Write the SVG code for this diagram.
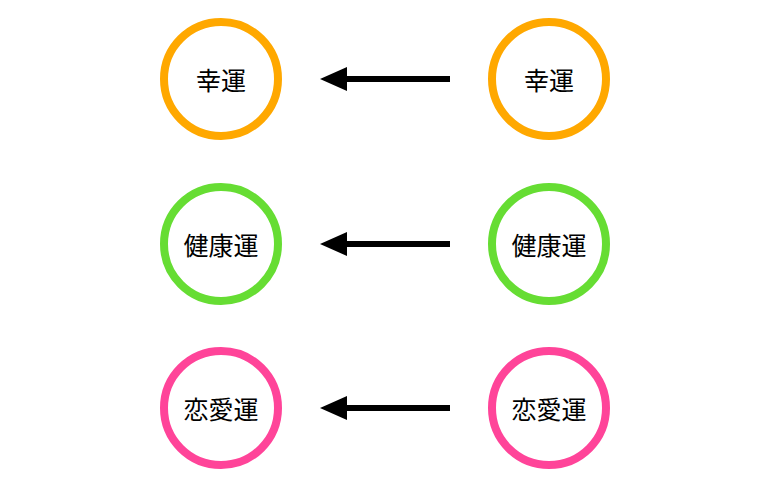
<svg xmlns="http://www.w3.org/2000/svg" width="768" height="487" viewBox="0 0 768 487">
<style>
.c{fill:#fff;stroke-width:8}
.t{font-family:"Noto Sans CJK JP","Noto Sans CJK SC",sans-serif;font-size:25px;text-anchor:middle;dominant-baseline:central;fill:#000}
.a{stroke:#000;stroke-width:6;fill:none;marker-end:url(#h)}
</style>
<defs><marker id="h" markerWidth="6" markerHeight="6" refX="0" refY="3" orient="auto" markerUnits="userSpaceOnUse" viewBox="0 0 6 6" overflow="visible"><path d="M-1,-9 L26,3 L-1,15 Z" fill="#000"/></marker></defs>
<rect width="768" height="487" fill="#fff"/>
<g id="connectors">
<line class="a" x1="450" y1="79" x2="346" y2="79"/>
<line class="a" x1="450" y1="244" x2="346" y2="244"/>
<line class="a" x1="450" y1="408" x2="346" y2="408"/>
</g>
<g id="l1"><circle class="c" cx="221" cy="79" r="57" stroke="#FFA800"/><text class="t" x="221" y="79">幸運</text></g>
<g id="r1"><circle class="c" cx="549" cy="79" r="57" stroke="#FFA800"/><text class="t" x="549" y="79">幸運</text></g>
<g id="l2"><circle class="c" cx="221" cy="244" r="57" stroke="#66DD33"/><text class="t" x="221" y="244">健康運</text></g>
<g id="r2"><circle class="c" cx="549" cy="244" r="57" stroke="#66DD33"/><text class="t" x="549" y="244">健康運</text></g>
<g id="l3"><circle class="c" cx="221" cy="408" r="57" stroke="#FF4499"/><text class="t" x="221" y="408">恋愛運</text></g>
<g id="r3"><circle class="c" cx="549" cy="408" r="57" stroke="#FF4499"/><text class="t" x="549" y="408">恋愛運</text></g>
</svg>
